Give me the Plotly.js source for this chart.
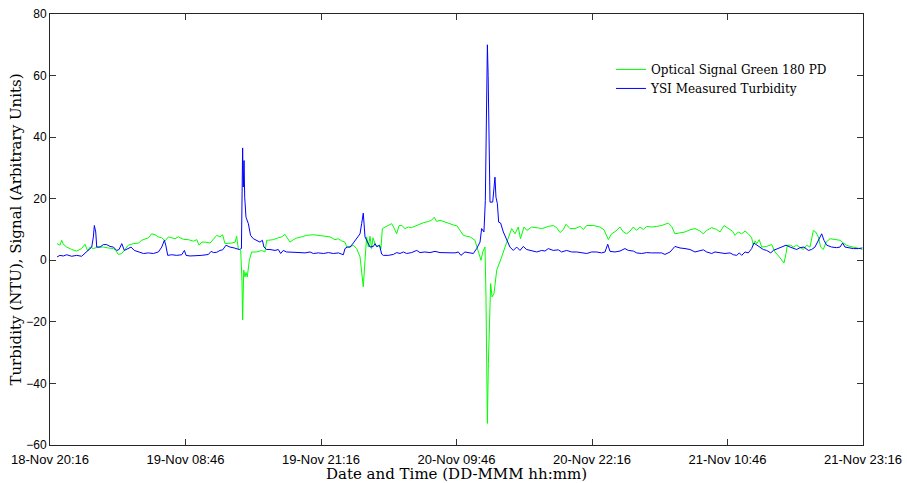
<!DOCTYPE html>
<html>
<head>
<meta charset="utf-8">
<script src="https://cdn.plot.ly/plotly-3.0.1.min.js"></script>
<style>html,body{margin:0;padding:0;background:#fff;}#chart{width:907px;height:483px;}</style>
</head>
<body>
<div id="chart"></div>
<script>
// Hours elapsed since 18-Nov 20:16
var greenHours = [0.65,0.92,1.08,1.23,1.54,2.0,2.46,2.92,3.23,3.48,3.69,4.0,4.46,4.92,5.38,5.85,6.06,6.31,6.62,6.92,7.23,7.69,8.15,8.46,8.77,9.08,9.38,9.69,10.0,10.31,10.62,10.92,11.23,11.54,11.85,12.31,12.77,13.23,13.54,13.75,14.0,14.31,14.77,15.08,15.38,15.68,15.93,16.14,16.45,16.76,17.07,17.22,17.37,17.59,17.71,17.77,17.87,17.99,18.08,18.2,18.39,18.6,19.07,19.53,19.83,19.99,20.14,20.6,21.06,21.37,21.68,21.9,22.14,22.45,22.75,23.2,23.68,24.3,24.9,25.37,25.83,26.29,26.6,26.9,27.21,27.37,27.68,27.98,28.29,28.6,28.75,28.84,28.9,29.06,29.21,29.37,29.52,29.67,29.8,29.98,30.14,30.4,30.53,30.66,30.9,31.21,31.52,31.7,31.98,32.2,32.45,32.75,33.06,33.36,33.67,33.98,34.44,34.9,35.2,35.45,35.67,35.98,36.44,36.9,37.36,37.52,37.82,38.13,38.44,38.74,39.2,39.52,39.76,39.92,40.13,40.22,40.3,40.35,40.44,40.52,40.65,40.78,40.96,41.21,41.45,41.67,41.98,42.28,42.59,42.9,43.2,43.4,43.73,44.0,44.43,45.05,45.36,45.66,45.97,46.43,46.74,47.05,47.36,47.6,47.97,48.43,48.9,49.2,49.51,50.12,50.74,51.11,51.35,51.51,51.81,52.21,52.58,52.89,53.2,53.51,53.81,54.12,54.43,54.74,55.04,55.5,55.96,56.43,57.04,57.35,57.65,58.12,58.58,59.04,59.5,59.96,60.27,60.58,61.04,61.5,61.81,62.18,62.58,62.98,63.19,63.5,63.81,64.12,64.42,64.73,64.88,65.04,65.19,65.43,65.65,66.11,66.58,66.88,67.28,67.71,67.9,68.02,68.33,68.57,68.88,69.19,69.49,69.8,70.11,70.42,70.63,70.88,71.09,71.34,71.59,71.96,72.42,72.88,73.19,73.49,73.8,74.11,74.42,74.72,74.94];
var greenSignal = [5.4,4.9,6.5,5.2,4.3,3.5,3.0,3.8,5.2,3.0,4.3,3.8,4.3,4.3,4.0,3.8,3.2,1.9,2.2,3.5,4.9,5.4,5.6,6.5,7.0,7.3,8.6,8.3,7.6,7.3,6.3,7.6,7.3,7.0,7.6,6.8,6.7,6.2,6.7,4.9,5.9,5.9,5.6,7.0,8.1,7.6,8.3,5.4,5.4,5.6,5.9,7.8,3.8,3.2,-6.5,-19.4,-3.2,-5.4,-4.0,-5.4,0,2.7,2.7,3.2,2.7,6.5,6.5,6.7,7.3,7.6,8.4,7.3,5.9,6.7,7.2,7.6,8.1,8.3,8.1,7.9,7.6,6.7,7.0,6.3,5.9,4.3,4.3,4.9,3.8,1.1,-3.2,-6.5,-8.6,0,7.6,4.3,7.8,3.8,7.3,5.5,4.3,5.0,3.8,10.3,10.8,11.3,11.9,10.8,8.6,11.3,11.3,10.3,10.8,10.6,11.1,11.6,12.2,12.6,13.0,14.0,12.6,13.0,12.4,11.9,11.3,11.3,9.7,8.1,7.8,7.6,6.5,3.2,0,2.7,4.3,-11.9,-45,-53,-33.5,-22.7,-7.6,-11.9,-10.8,-3.2,-1.1,1.1,4.3,7.0,10.3,8.6,10.8,7.0,10.8,9.7,10.8,10.5,10.3,10.6,11.0,11.3,10.6,9.0,10.0,11.7,10.3,10.3,11.0,10.0,11.3,11.3,10.8,9.9,8.1,6.7,8.6,9.5,10.8,9.2,8.6,9.5,10.8,9.7,10.8,10.0,11.0,10.8,11.0,11.3,12.1,11.0,8.6,8.9,9.2,9.9,10.3,9.5,8.6,9.7,10.6,10.0,9.2,11.3,10.3,9.4,8.1,9.2,8.6,9.5,8.6,7.3,4.9,6.3,5.4,6.7,4.3,4.5,5.1,2.7,1.1,-0.9,2.2,4.9,4.9,4.3,4.9,4.3,3.5,4.9,4.3,9.7,9.2,7.6,4.3,3.5,5.9,7.0,6.8,6.5,5.6,4.9,4.5,4.3,4.1,3.8,3.5];

var blueHours = [0.65,0.92,1.23,1.54,2.0,2.46,2.92,3.23,3.54,3.85,4.0,4.09,4.22,4.31,4.62,4.92,5.23,5.54,5.85,6.15,6.37,6.62,6.86,7.17,7.48,7.78,8.15,8.62,9.08,9.54,10.0,10.31,10.55,10.68,10.86,11.23,11.69,12.15,12.4,12.55,12.92,13.38,14.0,14.62,14.86,15.08,15.38,15.68,15.93,16.24,16.6,17.0,17.46,17.66,17.71,17.77,17.83,17.9,17.96,18.08,18.3,18.5,18.76,19.06,19.37,19.59,19.74,19.99,20.29,20.76,21.06,21.28,21.52,21.83,22.14,22.6,23.06,23.52,23.99,24.29,24.75,25.22,25.68,26.14,26.6,27.06,27.21,27.43,27.68,27.98,28.29,28.6,28.75,28.9,29.06,29.21,29.52,29.83,29.98,30.14,30.4,30.6,30.75,31.21,31.67,31.98,32.29,32.6,32.9,33.36,33.83,34.13,34.59,35.05,35.52,35.98,36.44,36.9,37.36,37.67,37.91,38.28,38.74,39.05,39.36,39.67,39.82,40.03,40.16,40.28,40.35,40.42,40.47,40.52,40.59,40.84,41.05,41.14,41.27,41.39,41.57,41.82,42.12,42.43,42.74,43.05,43.36,43.66,43.97,44.43,44.9,45.36,45.66,45.97,46.43,46.89,47.2,47.66,48.12,48.59,49.05,49.51,49.97,50.43,50.89,51.2,51.45,51.66,52.12,52.58,53.04,53.35,53.81,54.12,54.58,55.04,55.5,55.96,56.43,56.73,57.2,57.65,58.12,58.58,59.04,59.5,59.96,60.27,60.58,61.04,61.35,61.81,62.27,62.73,63.04,63.35,63.59,63.81,64.12,64.42,64.73,64.94,65.19,65.43,65.8,66.11,66.49,66.73,67.1,67.5,67.9,68.27,68.63,68.88,69.19,69.56,69.96,70.26,70.57,70.98,71.19,71.4,71.65,72.11,72.57,72.88,73.12,73.34,73.65,74.11,74.57,74.94];
var blueTurbidity = [1.1,1.6,1.4,1.8,1.3,1.6,1.3,2.2,3.2,4.3,7.6,11.3,9.2,4.3,4.3,5.1,5.1,4.5,4.3,3.2,3.5,5.4,3.2,3.8,4.3,3.2,2.7,2.2,2.4,2.2,2.7,4.3,6.5,4.9,1.6,1.8,1.6,1.8,3.2,1.6,1.4,1.4,1.6,1.9,2.9,2.5,2.6,3.2,3.4,4.9,4.3,4.0,3.5,3.8,29,36.5,23.8,32.4,20.5,14,11.9,8.1,7.0,6.5,5.9,6.5,4.3,3.5,3.5,3.2,3.5,2.2,3.2,2.7,2.7,2.7,2.5,2.4,2.7,2.2,2.4,2.2,2.5,2.2,2.4,1.8,3.8,4.3,4.3,5.6,7.0,8.6,11.9,15.3,7.6,6.5,4.3,4.5,5.4,4.5,4.8,2.0,1.6,1.6,1.9,2.5,2.2,2.7,2.2,2.5,3.2,2.5,2.7,2.5,2.9,2.5,2.5,2.4,2.4,2.7,1.6,2.7,2.5,2.2,3.8,5.9,10.3,9.2,19.4,63.8,70.0,60,42.1,25,18.9,18.9,27,20.5,18.4,12.4,12.1,9.2,7.0,4.3,3.2,4.3,3.2,4.5,3.5,3.2,2.7,3.2,3.0,3.8,3.2,3.4,2.7,3.2,2.7,2.7,2.4,2.2,2.7,2.7,2.4,2.7,5.2,2.9,2.7,3.0,3.8,3.2,3.0,2.4,2.2,2.5,2.4,2.4,2.4,1.9,2.7,4.5,4.0,3.8,3.5,2.7,3.2,3.4,2.7,2.2,2.7,2.4,2.2,2.4,1.8,1.6,2.4,1.6,2.7,2.4,3.8,5.6,4.9,4.3,3.5,3.2,2.4,3.2,3.8,4.3,4.9,4.3,3.8,3.5,4.1,4.3,3.2,3.5,4.3,7.0,8.6,6.5,4.9,4.3,4.1,4.3,5.6,4.3,4.1,3.8,3.8,4.0];

var tickHours = [0,12.5,25,37.5,50,62.5,75];
var tickLabels = ['18-Nov 20:16','19-Nov 08:46','19-Nov 21:16','20-Nov 09:46','20-Nov 22:16','21-Nov 10:46','21-Nov 23:16'];
var yTicks = [-60,-40,-20,0,20,40,60,80];

var traces = [
  {x: greenHours, y: greenSignal, type: 'scatter', mode: 'lines', name: 'Optical Signal Green 180 PD',
   line: {color: '#00ff00', width: 1}},
  {x: blueHours, y: blueTurbidity, type: 'scatter', mode: 'lines', name: 'YSI Measured Turbidity',
   line: {color: '#0000ff', width: 1}}
];

var serif = 'DejaVu Serif, serif';
var layout = {
  width: 907, height: 483,
  margin: {l: 50, r: 44, t: 14, b: 38},
  paper_bgcolor: '#ffffff', plot_bgcolor: '#ffffff',
  showlegend: true,
  legend: {x: 0.69, y: 0.905, xanchor: 'left', yanchor: 'top', bgcolor: 'rgba(0,0,0,0)',
           font: {family: serif, size: 12, color: '#000'}, tracegroupgap: 0},
  xaxis: {
    range: [0, 75], tickmode: 'array', tickvals: tickHours, ticktext: tickLabels,
    ticks: 'inside', ticklen: 6, tickcolor: '#333', mirror: 'allticks',
    showline: true, linecolor: '#262626', linewidth: 1, showgrid: false, zeroline: false,
    ticklabelstandoff: 2,
    tickfont: {family: 'Liberation Sans, Arial, sans-serif', size: 13, color: '#000'},
    title: {text: 'Date and Time (DD-MMM hh:mm)', font: {family: serif, size: 15, color: '#000'}, standoff: 0}
  },
  yaxis: {
    range: [-60, 80], tickmode: 'array', tickvals: yTicks,
    ticks: 'inside', ticklen: 6, tickcolor: '#333', mirror: 'allticks',
    showline: true, linecolor: '#262626', linewidth: 1, showgrid: false, zeroline: false,
    tickfont: {family: 'Liberation Sans, Arial, sans-serif', size: 12, color: '#000'},
    title: {text: 'Turbidity (NTU), Signal (Arbitrary Units)', font: {family: serif, size: 15, color: '#000'}, standoff: 0}
  }
};

Plotly.newPlot('chart', traces, layout, {displayModeBar: false, staticPlot: true});
</script>
</body>
</html>
